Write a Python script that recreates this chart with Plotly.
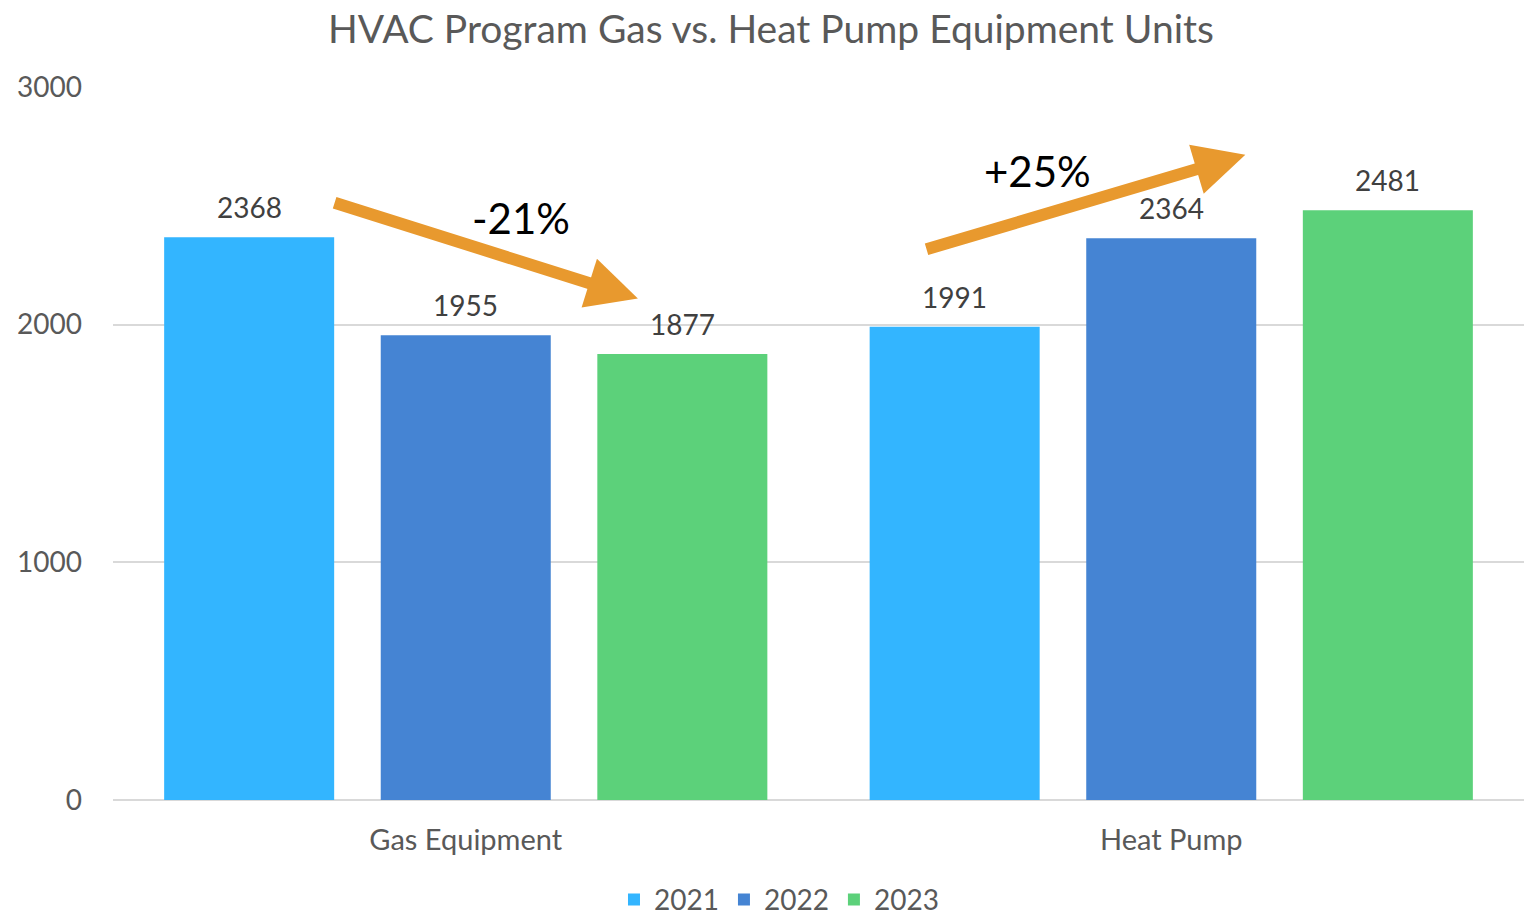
import plotly.graph_objs as go

categories = ['Gas Equipment', 'Heat Pump']
years = ['2021', '2022', '2023']
units_2021 = [2368, 1991]
units_2022 = [1955, 2364]
units_2023 = [1877, 2481]
colors = ['#33b5ff', '#4584d3', '#5cd17a']

FONT = 'Lato, Noto Sans, sans-serif'

fig = go.Figure()
offsets = [-1, 0, 1]
for name, vals, c, off in zip(years, [units_2021, units_2022, units_2023], colors, offsets):
    fig.add_trace(go.Bar(
        x=categories,
        y=vals,
        name=name,
        marker=dict(color=c, line=dict(width=0)),
    ))
    # value labels above each bar
    for i, v in enumerate(vals):
        fig.add_annotation(x=i + off * 0.3069, y=v, text=str(v), showarrow=False,
                           xref='x', yref='y', yanchor='middle', yshift=30,
                           font=dict(size=28, color='#404040', family=FONT))

# change arrows (x on categorical axis: 0 = Gas Equipment, 1 = Heat Pump)
arrow = dict(showarrow=True, arrowhead=2, arrowsize=0.85, arrowwidth=12,
             arrowcolor='#e8992e', xref='x', yref='y', axref='x', ayref='y',
             text='', standoff=0, startstandoff=0)
fig.add_annotation(x=0.244, y=2110, ax=-0.188, ay=2515, **arrow)
fig.add_annotation(x=1.105, y=2715, ax=0.651, ay=2315, **arrow)
fig.add_annotation(x=0.078, y=2450, text='-21%', showarrow=False, xref='x', yref='y',
                   font=dict(size=42, color='#000000', family=FONT))
fig.add_annotation(x=0.81, y=2645, text='+25%', showarrow=False, xref='x', yref='y',
                   font=dict(size=42, color='#000000', family=FONT))

# page body has an 8px margin, so the figure is 8px smaller each way
fig.update_layout(
    width=1526, height=907,
    paper_bgcolor='white', plot_bgcolor='white',
    margin=dict(l=105, r=10, t=79, b=115, autoexpand=False),
    title=dict(text='HVAC Program Gas vs. Heat Pump Equipment Units', x=0.5, xanchor='center',
               y=0.977, yanchor='middle', font=dict(size=39, color='#595959', family=FONT)),
    barmode='group', bargap=0.079, bargroupgap=0.215,
    legend=dict(orientation='h', x=0.472, xanchor='center', y=-0.14, yanchor='middle',
                font=dict(size=28, color='#595959', family=FONT), itemwidth=30),
    showlegend=True,
)
fig.update_yaxes(range=[0, 3000], tickvals=[0, 1000, 2000, 3000], showgrid=True,
                 gridcolor='#d9d9d9', gridwidth=2, zeroline=True, zerolinecolor='#d9d9d9',
                 zerolinewidth=2, ticks='', tickfont=dict(size=28, color='#595959', family=FONT),
                 ticklabelstandoff=30, automargin=False)
fig.update_xaxes(range=[-0.5, 1.5], showline=False, ticks='', automargin=False,
                 tickfont=dict(size=29, color='#595959', family=FONT), ticklabelstandoff=20)

fig.write_html('out.html')
